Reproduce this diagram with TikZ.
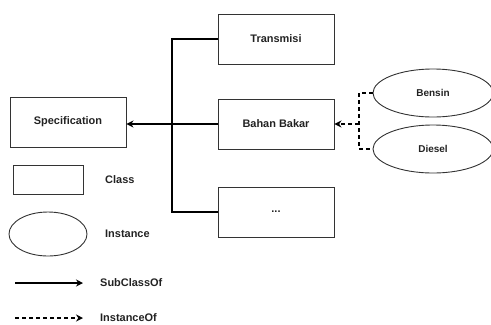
\documentclass[tikz,border=0pt]{standalone}
\usepackage{fontspec}
\setmainfont{Liberation Sans}
\usetikzlibrary{arrows.meta,shapes.geometric}
\definecolor{txt}{HTML}{222222}
\definecolor{edge}{HTML}{333333}
\tikzset{
  cls/.style={draw=edge, line width=0.9bp, minimum width=116bp, minimum height=50bp,
    inner sep=0pt, font=\fontsize{11}{13}\selectfont\bfseries, text=txt},
  inst/.style={draw=edge, line width=0.9bp, ellipse, minimum width=120bp, minimum height=48bp,
    inner sep=0pt, font=\fontsize{10}{12}\selectfont\bfseries, text=txt},
  lbl/.style={anchor=west, inner sep=0pt, font=\fontsize{11}{13}\selectfont\bfseries, text=txt},
  sub/.style={line width=1.5bp, draw=black},
  ins/.style={line width=1.2bp, draw=black, dash pattern=on 4bp off 3bp},
  tip/.style={-{Stealth[length=7bp,width=7bp]}},
}
\begin{document}
\begin{tikzpicture}[x=1bp,y=-1bp]
  \useasboundingbox (0,0) rectangle (491,324);
  % classes
  \node[cls] (spec) at (68,122) {Specification};
  \node[cls] (trans) at (276,39) {Transmisi};
  \node[cls] (bahan) at (276,124) {Bahan Bakar};
  \node[cls] (more) at (276,212) {...};
  % instances
  \node[inst] (bensin) at (433,93) {Bensin};
  \node[inst] (diesel) at (433,149) {Diesel};
  % subclass tree
  \coordinate (trunk) at (172,124);
  \draw[sub] (trans.west) -| (trunk) |- (more.west);
  \draw[sub] (bahan.west) -- (trunk);
  \draw[sub,tip] (trunk) -- (spec.east |- trunk);
  % instance bracket
  \coordinate (brk) at (359,124);
  \draw[ins] (bensin.west) -| (brk) |- (diesel.west);
  \draw[ins,tip] (brk) -- (bahan.east);
  % legend
  \node[draw=edge, line width=0.9bp, minimum width=70bp, minimum height=29bp, inner sep=0pt] (lgcls) at (48,179.5) {};
  \node[lbl] (lgclst) at (105,180) {Class};
  \node[draw=edge, line width=0.9bp, ellipse, minimum width=78bp, minimum height=44bp, inner sep=0pt] (lgins) at (48,234) {};
  \node[lbl] (lginst) at (105,234) {Instance};
  \coordinate (s0) at (15,283);
  \node[lbl] (lgsub) at (100,283) {SubClassOf};
  \draw[sub,line width=1.2bp,tip] (s0) -- (83,283);
  \coordinate (i0) at (15,318);
  \node[lbl] (lgio) at (100,318) {InstanceOf};
  \draw[ins,tip] (i0) -- (83,318);
\end{tikzpicture}
\end{document}
